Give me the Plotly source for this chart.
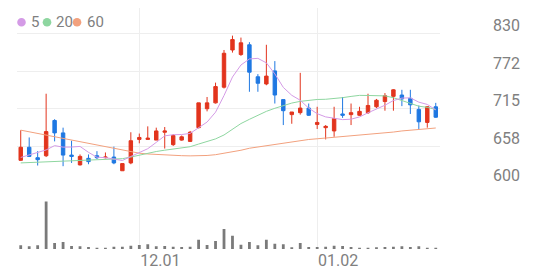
import plotly.graph_objects as go

# ---- data ----
idx = list(range(50))
open_ = [636, 656, 640, 643, 697, 678, 644, 629, 639, 643, 640, 641, 620, 632, 668, 668, 667, 679, 660, 667,
         665, 686, 715, 724, 748, 805, 798, 813, 764, 753, 773, 729, 706, 709, 716, 691, 686, 681, 707, 706,
         705, 709, 718, 726, 734, 736, 731, 714, 694, 718]
high = [682, 671, 650, 738, 699, 686, 666, 645, 645, 650, 648, 657, 631, 679, 677, 688, 686, 687, 676, 674,
        681, 724, 733, 755, 805, 827, 824, 817, 768, 813, 788, 729, 710, 770, 723, 718, 690, 718, 733, 723,
        718, 738, 730, 739, 745, 744, 744, 720, 719, 724]
low = [635, 641, 628, 641, 665, 627, 632, 628, 630, 638, 639, 630, 620, 630, 662, 668, 667, 654, 658, 666,
       664, 685, 711, 723, 746, 801, 796, 741, 741, 751, 723, 690, 692, 706, 704, 684, 668, 672, 701, 690,
       704, 707, 716, 712, 712, 719, 707, 684, 686, 701]
close = [656, 642, 637, 680, 678, 644, 642, 642, 634, 640, 641, 632, 631, 666, 671, 670, 681, 681, 674, 672,
         679, 724, 724, 749, 800, 821, 816, 771, 754, 765, 736, 712, 710, 716, 705, 694, 688, 700, 705, 709,
         711, 720, 728, 735, 744, 730, 721, 695, 718, 702]
ma5 = [640.4, 644.3, 648.4, 651.9, 658.5, 656.2, 656.3, 657.3, 648.2, 640.7, 640.1, 637.9, 635.7, 641.9, 648.0,
       653.8, 663.5, 673.5, 675.2, 675.5, 677.2, 685.9, 694.6, 709.7, 735.2, 763.6, 782.0, 791.3, 792.2, 785.3,
       768.4, 747.7, 735.6, 728.0, 715.9, 707.4, 702.5, 700.5, 698.3, 699.0, 702.5, 708.8, 714.3, 720.4, 727.6,
       731.3, 731.7, 725.1, 721.6, 713.2]
ma20 = [632.0, 632.5, 633.0, 633.5, 634.0, 634.5, 635.0, 635.5, 636.0, 636.5, 637.0, 637.5, 638.5, 641.0, 644.0,
        647.0, 649.5, 651.5, 653.5, 655.7, 656.8, 660.9, 665.3, 668.8, 674.8, 683.7, 692.3, 698.8, 704.8, 711.0,
        715.7, 719.8, 723.7, 726.3, 728.0, 729.2, 729.5, 730.5, 732.0, 733.9, 735.5, 735.3, 735.4, 734.7, 731.9,
        727.4, 722.7, 718.9, 717.1, 713.9]
ma60 = [682.2, 679.6, 677.0, 674.4, 671.9, 669.3, 666.9, 664.3, 661.7, 659.2, 656.6, 654.0, 651.4, 649.0, 646.9,
        645.7, 644.8, 644.0, 643.6, 643.1, 642.8, 643.0, 643.4, 644.6, 646.5, 648.4, 651.4, 654.5, 656.4, 658.6,
        660.5, 662.6, 664.8, 666.4, 667.9, 669.0, 670.1, 671.1, 672.2, 673.2, 674.4, 675.7, 676.9, 678.1, 679.3,
        681.0, 682.0, 683.2, 684.4, 685.5]
volume = [37000, 27000, 37000, 480000, 60000, 70000, 30000, 27000, 20000, 13000, 13000, 23000, 23000, 33000,
          40000, 47000, 27000, 30000, 23000, 20000, 23000, 93000, 40000, 80000, 203000, 133000, 43000, 70000,
          37000, 93000, 53000, 47000, 17000, 60000, 20000, 20000, 23000, 33000, 30000, 20000, 13000, 13000,
          17000, 20000, 23000, 27000, 20000, 27000, 13000, 10000]
x_tick_pos = [14, 35]
x_tick_text = ["12.01", "01.02"]
y_tick_vals = [600, 657.5, 715, 772.5, 830]
y_tick_text = ["600", "658", "715", "772", "830"]
legend_labels = ["5", "20", "60"]

RED = "#e2341d"
BLUE = "#1f78e2"
C5 = "#d49be6"
C20 = "#8ed6a0"
C60 = "#f2a17e"
GRID = "#eeeeee"
TXT = "#808080"

fig = go.Figure()
fig.add_trace(go.Scatter(x=idx, y=ma60, mode="lines", line=dict(color=C60, width=1), yaxis="y", hoverinfo="skip"))
fig.add_trace(go.Scatter(x=idx, y=ma20, mode="lines", line=dict(color=C20, width=1), yaxis="y", hoverinfo="skip"))
fig.add_trace(go.Scatter(x=idx, y=ma5, mode="lines", line=dict(color=C5, width=1), yaxis="y", hoverinfo="skip"))
fig.add_trace(go.Candlestick(
    x=idx, open=open_, high=high, low=low, close=close, yaxis="y",
    increasing=dict(line=dict(color=RED, width=1), fillcolor=RED),
    decreasing=dict(line=dict(color=BLUE, width=1), fillcolor=BLUE),
    whiskerwidth=0,
))
fig.add_trace(go.Bar(x=idx, y=volume, yaxis="y2", marker=dict(color="#7a7a7a", line=dict(width=0)),
                     width=0.33, hoverinfo="skip"))

W, H = 540, 278
ML, MR, MT, MB = 17, 100, 8, 26
pw, ph = W - ML - MR, H - MT - MB
vol_top = (252 - 186) / ph

fig.update_layout(
    width=W, height=H, margin=dict(l=ML, r=MR, t=MT, b=MB),
    paper_bgcolor="white", plot_bgcolor="white", showlegend=False,
    boxgap=0.42,
    font=dict(family="Roboto", color=TXT, size=16),
    xaxis=dict(range=[-0.44, 49.5], tickvals=x_tick_pos, ticktext=x_tick_text, showgrid=True,
               gridcolor=GRID, gridwidth=1, zeroline=False, showline=False, ticks="",
               rangeslider=dict(visible=False), ticklabelshift=21, tickfont=dict(size=16, color=TXT),
               anchor="y2"),
    yaxis=dict(domain=[vol_top, 1], range=[600, 600 + (186 - 8) / 0.6609], side="right",
               tickvals=y_tick_vals, ticktext=y_tick_text, showgrid=True, gridcolor=GRID, gridwidth=1,
               zeroline=False, ticks="", ticklabelshift=-8, ticklabelstandoff=52,
               tickfont=dict(size=16, color=TXT)),
    yaxis2=dict(domain=[0, vol_top], range=[0, 480000 * 66 / 48], showgrid=True, tickvals=[0],
                gridcolor="#e4e4e4", showticklabels=False, zeroline=False, ticks=""),
)

def px(xp):
    return (xp - ML) / pw

def py(yp):
    return 1 - (yp - MT) / ph

leg_colors = [C5, C20, C60]
dot_x = [21.5, 47, 77]
txt_x = [28.5, 54, 84.5]
for lab, col, dx, tx in zip(legend_labels, leg_colors, dot_x, txt_x):
    fig.add_shape(type="circle", xref="paper", yref="paper", xsizemode="pixel", ysizemode="pixel",
                  xanchor=px(dx), yanchor=py(22.5), x0=-4.3, x1=4.3, y0=-4.3, y1=4.3,
                  fillcolor=col, line=dict(width=0))
    fig.add_annotation(xref="paper", yref="paper", x=px(tx), y=py(22.5), text=lab, showarrow=False,
                       font=dict(color=TXT, size=15, family="Roboto"), xanchor="left", yanchor="middle")

fig.write_html("out.html")
